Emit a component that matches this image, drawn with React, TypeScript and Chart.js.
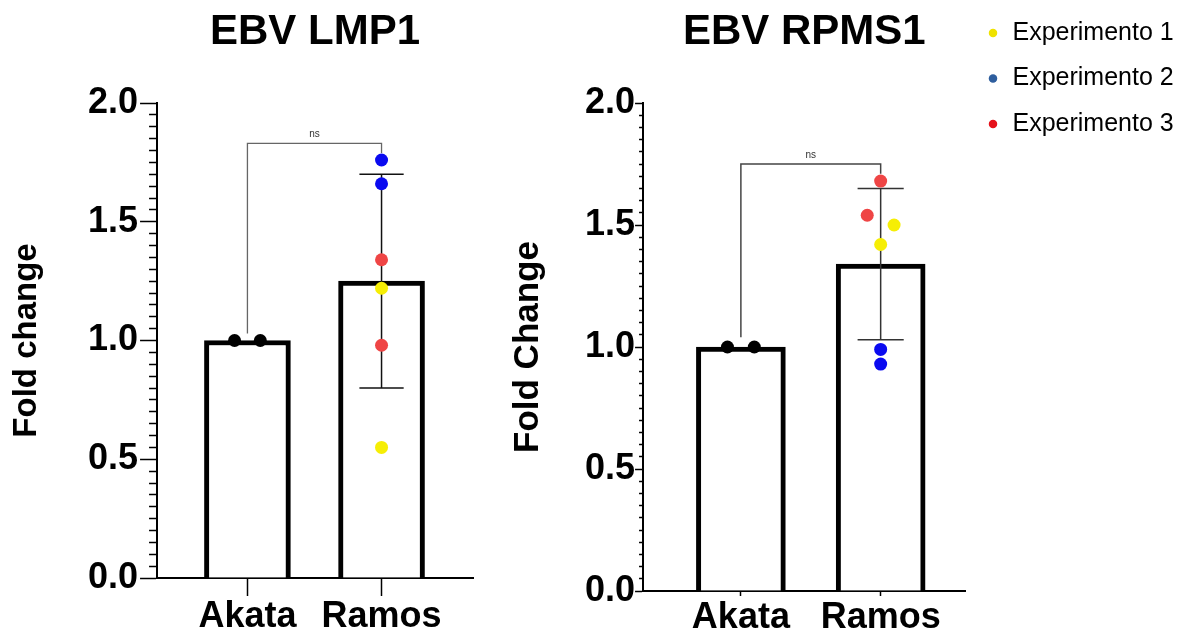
import React, { useEffect, useRef } from "react";
import { Chart, registerables } from "chart.js";

Chart.register(...registerables);

const FONT = "'Liberation Sans', Arial, Helvetica, sans-serif";

// ---------- data ----------
const CATEGORIES = ["Akata", "Ramos"];
const AKATA_INDEX = 0;
const RAMOS_INDEX = 1;
const Y_MIN = 0;
const Y_MAX = 2;
const Y_MAJOR_STEP = 0.5;
const Y_MINOR_STEP = 0.05;

const EXPERIMENT_LABELS = ["Experimento 1", "Experimento 2", "Experimento 3"];

// EBV LMP1
const LMP1_TITLE = "EBV LMP1";
const LMP1_Y_TITLE = "Fold change";
const LMP1_MEANS = [1.0, 1.25];
const LMP1_SD = [0, 0.45];
const LMP1_AKATA = [1.0, 1.0];
const LMP1_EXP1 = [1.22, 0.55];
const LMP1_EXP2 = [1.76, 1.66];
const LMP1_EXP3 = [1.34, 0.98];
const LMP1_BRACKET = [1.03, 1.83, 1.79]; // left foot, top, right foot
const LMP1_SIG = "ns";

// EBV RPMS1
const RPMS1_TITLE = "EBV RPMS1";
const RPMS1_Y_TITLE = "Fold Change";
const RPMS1_MEANS = [1.0, 1.34];
const RPMS1_SD = [0, 0.31];
const RPMS1_AKATA = [1.0, 1.0];
const RPMS1_EXP1 = [1.5, 1.42];
const RPMS1_EXP2 = [0.99, 0.93];
const RPMS1_EXP3 = [1.68, 1.54];
const RPMS1_BRACKET = [1.04, 1.75, 1.71];
const RPMS1_SIG = "ns";

// jitter slots for the scatter points (-1 left, 0 centre, +1 right)
const AKATA_SLOTS = [-1, 1];
const LMP1_EXP_SLOTS = [[0, 0], [0, 0], [0, 0]];
const RPMS1_EXP_SLOTS = [[1, 0], [0, 0], [0, -1]];

// ---------- styles ----------
const JITTER = 0.096;
const CAP_HALF = 0.165;
const POINT_COLORS = ["#f6ee05", "#0a0af0", "#ef4545"];
const LEGEND_COLORS = ["#efe200", "#2e5e9e", "#e5121b"];

type Spec = {
  title: string;
  yTitle: string;
  means: number[];
  sd: number[];
  akata: number[];
  exps: number[][];
  slots: number[][];
  bracket: number[];
  sig: string;
};

type Style = {
  left: number;
  width: number;
  padding: { left: number; right: number; top: number; bottom: number };
  xMin: number;
  xMax: number;
  barPx: number;
  yTitleSize: number;
  yTitlePadBottom: number;
  yTickLen: number;
  yMinorLen: number;
  yTickPad: number;
  xTickLen: number;
  xTickPad: number;
  xTickLineHeight: number;
  errColor: string;
  bracketColor: string;
  bracketWidth: number;
  showLegend: boolean;
};

const isMajor = (v: number) =>
  Math.abs(v / Y_MAJOR_STEP - Math.round(v / Y_MAJOR_STEP)) < 1e-6;

function lineDs(data: { x: number; y: number }[], color: string, width: number) {
  return {
    type: "line",
    label: "_line",
    data,
    borderColor: color,
    borderWidth: width,
    pointRadius: 0,
    pointHoverRadius: 0,
    fill: false,
    tension: 0,
    order: 2,
  };
}

function buildConfig(p: Spec, s: Style): any {
  const datasets: any[] = [];
  datasets.push({
    type: "scatter",
    label: "_akata",
    data: p.akata.map((y, k) => ({ x: AKATA_INDEX + AKATA_SLOTS[k] * JITTER, y })),
    pointBackgroundColor: "#000",
    pointBorderWidth: 0,
    pointRadius: 6.5,
    pointHoverRadius: 6.5,
    order: 1,
  });
  p.exps.forEach((vals, e) => {
    datasets.push({
      type: "scatter",
      label: EXPERIMENT_LABELS[e],
      data: vals.map((y, k) => ({ x: RAMOS_INDEX + p.slots[e][k] * JITTER, y })),
      pointBackgroundColor: POINT_COLORS[e],
      pointBorderWidth: 0,
      pointRadius: 6.5,
      pointHoverRadius: 6.5,
      order: 1,
    });
  });
  p.means.forEach((m, i) => {
    const sd = p.sd[i];
    if (!sd) return;
    const lo = m - sd;
    const hi = m + sd;
    datasets.push(lineDs([{ x: i, y: lo }, { x: i, y: hi }], s.errColor, 1.5));
    datasets.push(lineDs([{ x: i - CAP_HALF, y: hi }, { x: i + CAP_HALF, y: hi }], s.errColor, 1.5));
    datasets.push(lineDs([{ x: i - CAP_HALF, y: lo }, { x: i + CAP_HALF, y: lo }], s.errColor, 1.5));
  });
  const b = p.bracket;
  datasets.push(
    lineDs(
      [
        { x: AKATA_INDEX, y: b[0] },
        { x: AKATA_INDEX, y: b[1] },
        { x: RAMOS_INDEX, y: b[1] },
        { x: RAMOS_INDEX, y: b[2] },
      ],
      s.bracketColor,
      s.bracketWidth
    )
  );
  datasets.push({
    type: "bar",
    label: "_bars",
    data: p.means.map((y, i) => ({ x: i, y })),
    backgroundColor: "#ffffff",
    borderColor: "#000000",
    borderWidth: 5,
    borderSkipped: "start",
    barThickness: s.barPx,
    order: 3,
  });

  const sigPlugin = {
    id: "sigLabel",
    afterDatasetsDraw(chart: any) {
      const { ctx, scales } = chart;
      const x = scales.x.getPixelForValue((AKATA_INDEX + RAMOS_INDEX) / 2);
      const y = scales.y.getPixelForValue(b[1]);
      ctx.save();
      ctx.font = `10px ${FONT}`;
      ctx.fillStyle = "#333";
      ctx.textAlign = "center";
      ctx.textBaseline = "middle";
      ctx.fillText(p.sig, x, y - 9);
      ctx.restore();
    },
  };

  return {
    type: "bar",
    data: { datasets },
    plugins: [sigPlugin],
    options: {
      responsive: false,
      animation: false,
      devicePixelRatio: 1,
      layout: { padding: s.padding },
      plugins: {
        tooltip: { enabled: false },
        title: {
          display: true,
          fullSize: false,
          text: p.title,
          color: "#000",
          font: { family: FONT, size: 42, weight: "bold", lineHeight: 1.2 },
          padding: { top: 7, bottom: 45.6 },
        },
        legend: s.showLegend
          ? {
              display: true,
              position: "right",
              align: "start",
              maxWidth: 208,
              labels: {
                usePointStyle: true,
                boxWidth: 14,
                boxHeight: 6,
                padding: 20.5,
                color: "#000",
                font: { family: FONT, size: 25 },
                generateLabels: () =>
                  EXPERIMENT_LABELS.map((text, i) => ({
                    text,
                    fillStyle: LEGEND_COLORS[i],
                    strokeStyle: LEGEND_COLORS[i],
                    lineWidth: 0,
                    pointStyle: "circle",
                    hidden: false,
                    fontColor: "#000",
                  })),
              },
            }
          : { display: false },
      },
      scales: {
        x: {
          type: "linear",
          min: s.xMin,
          max: s.xMax,
          offset: false,
          afterBuildTicks: (scale: any) => {
            scale.ticks = CATEGORIES.map((_, i) => ({ value: i }));
          },
          ticks: {
            callback: (v: any) => CATEGORIES[Math.round(Number(v))] ?? "",
            color: "#000",
            autoSkip: false,
            maxRotation: 0,
            padding: s.xTickPad,
            font: { family: FONT, size: 36, weight: "bold", lineHeight: s.xTickLineHeight },
          },
          grid: {
            display: true,
            offset: false,
            drawOnChartArea: false,
            drawTicks: true,
            tickLength: s.xTickLen,
            tickColor: "#000",
            tickWidth: 1.5,
          },
          border: { display: true, color: "#000", width: 2 },
        },
        y: {
          type: "linear",
          min: Y_MIN,
          max: Y_MAX,
          ticks: {
            stepSize: Y_MINOR_STEP,
            autoSkip: false,
            color: "#000",
            padding: s.yTickPad,
            font: { family: FONT, size: 36, weight: "bold", lineHeight: 1.2 },
            callback: (v: any) => (isMajor(Number(v)) ? Number(v).toFixed(1) : ""),
          },
          grid: {
            display: true,
            drawOnChartArea: false,
            drawTicks: true,
            tickLength: s.yTickLen,
            tickColor: "#000",
            tickWidth: 1.5,
            tickBorderDash: (ctx: any) =>
              ctx && ctx.tick && !isMajor(ctx.tick.value)
                ? [0, s.yTickLen - s.yMinorLen, s.yMinorLen, 200]
                : [],
          },
          border: { display: true, color: "#000", width: 2 },
          title: {
            display: true,
            text: p.yTitle,
            color: "#000",
            font: { family: FONT, size: s.yTitleSize, weight: "bold", lineHeight: 1.2 },
            padding: { top: 4, bottom: s.yTitlePadBottom },
          },
        },
      },
    },
  };
}

const LMP1_SPEC: Spec = {
  title: LMP1_TITLE,
  yTitle: LMP1_Y_TITLE,
  means: LMP1_MEANS,
  sd: LMP1_SD,
  akata: LMP1_AKATA,
  exps: [LMP1_EXP1, LMP1_EXP2, LMP1_EXP3],
  slots: LMP1_EXP_SLOTS,
  bracket: LMP1_BRACKET,
  sig: LMP1_SIG,
};

const RPMS1_SPEC: Spec = {
  title: RPMS1_TITLE,
  yTitle: RPMS1_Y_TITLE,
  means: RPMS1_MEANS,
  sd: RPMS1_SD,
  akata: RPMS1_AKATA,
  exps: [RPMS1_EXP1, RPMS1_EXP2, RPMS1_EXP3],
  slots: RPMS1_EXP_SLOTS,
  bracket: RPMS1_BRACKET,
  sig: RPMS1_SIG,
};

const LMP1_STYLE: Style = {
  left: 0,
  width: 622,
  padding: { left: 3, right: 149, top: 0, bottom: -4 },
  xMin: -0.674,
  xMax: 1.682,
  barPx: 86,
  yTitleSize: 33,
  yTitlePadBottom: 39.4,
  yTickLen: 17,
  yMinorLen: 8,
  yTickPad: 2,
  xTickLen: 18,
  xTickPad: 3,
  xTickLineHeight: 1,
  errColor: "#111",
  bracketColor: "#666",
  bracketWidth: 1.3,
  showLegend: false,
};

const RPMS1_STYLE: Style = {
  left: 444,
  width: 734,
  padding: { left: 59, right: 4.5, top: 0, bottom: -6 },
  xMin: -0.7,
  xMax: 1.607,
  barPx: 89,
  yTitleSize: 35,
  yTitlePadBottom: 36,
  yTickLen: 8,
  yMinorLen: 4,
  yTickPad: 0,
  xTickLen: 5,
  xTickPad: 6,
  xTickLineHeight: 32 / 36,
  errColor: "#333",
  bracketColor: "#444",
  bracketWidth: 1.5,
  showLegend: true,
};

function PanelChart({ spec, style }: { spec: Spec; style: Style }) {
  const ref = useRef<HTMLCanvasElement | null>(null);
  useEffect(() => {
    if (!ref.current) return;
    const chart = new Chart(ref.current, buildConfig(spec, style));
    return () => chart.destroy();
  }, [spec, style]);
  return (
    <canvas
      ref={ref}
      width={style.width}
      height={634}
      style={{ position: "absolute", left: style.left, top: 0, width: style.width, height: 634 }}
    />
  );
}

export default function App() {
  return (
    <div
      style={{
        position: "absolute",
        left: 0,
        top: 0,
        width: 1178,
        height: 634,
        background: "#ffffff",
        overflow: "hidden",
      }}
    >
      <PanelChart spec={LMP1_SPEC} style={LMP1_STYLE} />
      <PanelChart spec={RPMS1_SPEC} style={RPMS1_STYLE} />
    </div>
  );
}
